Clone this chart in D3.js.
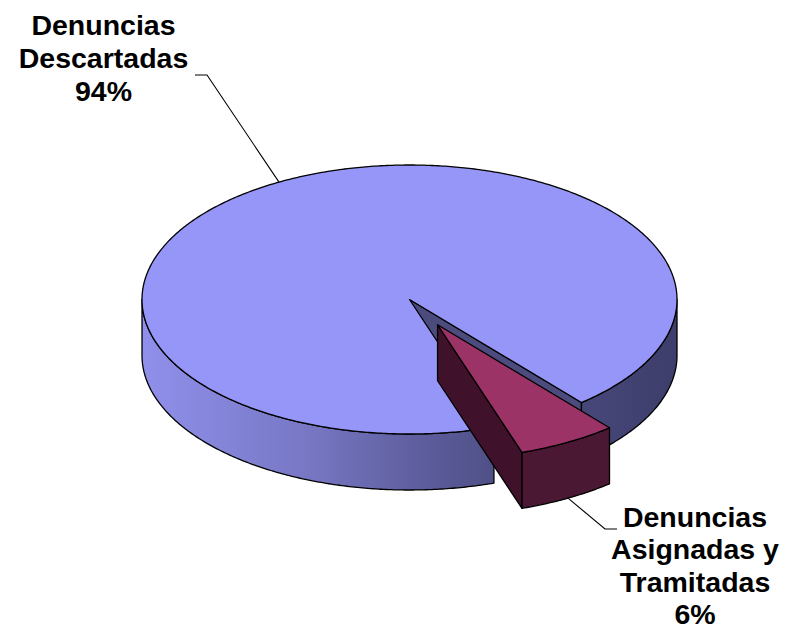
<!DOCTYPE html>
<html><head><meta charset="utf-8">
<script src="https://cdn.jsdelivr.net/npm/d3@7"></script>
<style>html,body{margin:0;padding:0;background:#fff;}svg{display:block;}</style>
</head><body>
<svg id="chart" width="785" height="632"></svg>
<script>
// ---- data ----
const categories = ["Denuncias Descartadas", "Denuncias Asignadas y Tramitadas"];
const values = [94, 6];
const labelLines = [["Denuncias", "Descartadas", "94%"], ["Denuncias", "Asignadas y", "Tramitadas", "6%"]];

// ---- layout / style ----
const W = 785, H = 632;
const cx = 409.5, cy = 299.5, rx = 267.5, ry = 134.5, depth = 56;
const startDeg = 161.6;
const explode = [0, 0.215];
const topColors = ["#9696F8", "#9C3366"];
const faceColors = ["#4B4B7E", "#40112A"];
const wallSolid = [null, "#4A1832"];
const labelPos = [{x: 103.5, y: 35, lx: [207, 195], ly: 75, lh: 33}, {x: 695, y: 527, lx: [605, 617], ly: 529, lh: 32.3}];

const svg = d3.select("#chart");
const defs = svg.append("defs");
const grad = defs.append("linearGradient").attr("id", "gBlue")
  .attr("gradientUnits", "userSpaceOnUse")
  .attr("x1", cx - rx).attr("x2", cx + rx).attr("y1", 0).attr("y2", 0);
[[0, "#9090EC"], [0.3, "#7878C6"], [0.55, "#5A5A98"], [0.7, "#4C4C82"], [1, "#3E3E6C"]]
  .forEach(([o, c]) => grad.append("stop").attr("offset", o).attr("stop-color", c));

const pie = d3.pie().sort(null).value(d => d)
  .startAngle(startDeg * Math.PI / 180).endAngle(startDeg * Math.PI / 180 + 2 * Math.PI);
const arcs = pie(values);

const P = (a, c, dy = 0) => [c[0] + rx * Math.sin(a), c[1] - ry * Math.cos(a) + dy];
function arcPts(a0, a1, c, dy) {
  const n = Math.max(2, Math.ceil(Math.abs(a1 - a0) / 0.01));
  return d3.range(n + 1).map(i => P(a0 + (a1 - a0) * i / n, c, dy));
}
const line = d3.line();

const slices = arcs.map((d, i) => {
  const mid = (d.startAngle + d.endAngle) / 2;
  const k = explode[i];
  const c = [cx + rx * k * Math.sin(mid), cy - ry * k * Math.cos(mid)];
  return {d, i, mid, c};
}).sort((a, b) => a.c[1] - b.c[1]);

const g = svg.append("g").attr("stroke", "#000").attr("stroke-width", 1.3).attr("stroke-linejoin", "round");

slices.forEach(s => {
  const {d, i, c} = s;
  const a0 = d.startAngle, a1 = d.endAngle;
  // radial faces
  const faces = [];
  if (Math.sin(a0) < 0) faces.push(a0);
  if (Math.sin(a1) > 0) faces.push(a1);
  faces.forEach(a => {
    const r0 = P(a, c), r1 = P(a, c, depth);
    g.append("path").attr("fill", faceColors[i])
      .attr("d", line([c, r0, r1, [c[0], c[1] + depth]]) + "Z");
  });
  // outer walls (front half)
  for (let kk = -1; kk <= 2; kk++) {
    const f0 = Math.PI / 2 + 2 * Math.PI * kk, f1 = 3 * Math.PI / 2 + 2 * Math.PI * kk;
    const b0 = Math.max(a0, f0), b1 = Math.min(a1, f1);
    if (b1 > b0 + 1e-6) {
      const pts = arcPts(b0, b1, c, 0).concat(arcPts(b1, b0, c, depth));
      g.append("path").attr("fill", wallSolid[i] || "url(#gBlue)").attr("d", line(pts) + "Z");
    }
  }
  // top
  const topPts = [c].concat(arcPts(a0, a1, c, 0));
  g.append("path").attr("fill", topColors[i]).attr("d", line(topPts) + "Z");
});

// leader lines + labels
slices.forEach(s => {
  const {i, mid, c} = s;
  const lp = labelPos[i];
  const anchor = Math.cos(mid) > 0 ? P(mid, c) : P(mid, c, depth);
  svg.append("path").attr("fill", "none").attr("stroke", "#000").attr("stroke-width", 1.1)
    .attr("d", line([anchor, [lp.lx[0], lp.ly], [lp.lx[1], lp.ly]]));
  const t = svg.append("text").attr("text-anchor", "middle")
    .attr("font-family", "Arial, 'Liberation Sans', sans-serif")
    .attr("font-weight", "bold").attr("font-size", 28.5).attr("fill", "#000");
  labelLines[i].forEach((ln, j) => t.append("tspan").attr("x", lp.x).attr("y", lp.y + j * lp.lh).text(ln));
});
</script>
</body></html>
